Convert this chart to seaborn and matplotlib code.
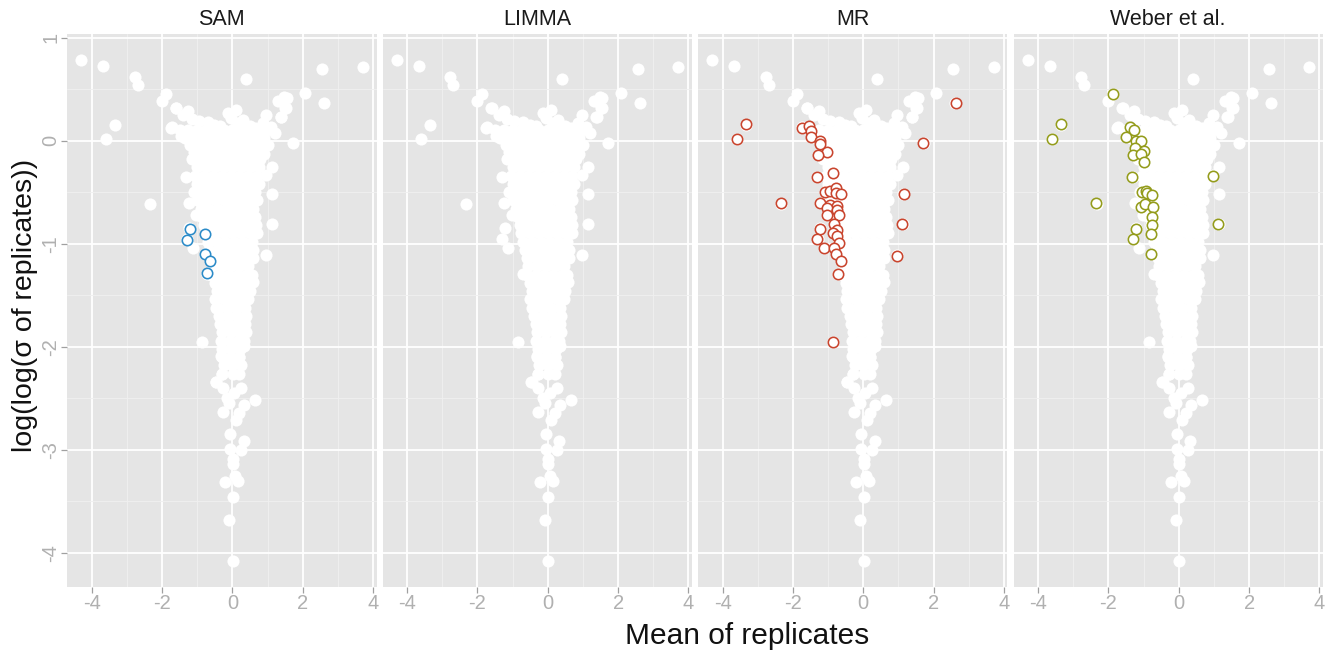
import numpy as np
import pandas as pd
import matplotlib
matplotlib.use("Agg")
import matplotlib.pyplot as plt
import seaborn as sns
from matplotlib.ticker import MultipleLocator

# ---------------- data ----------------
panels = ["SAM", "LIMMA", "MR", "Weber et al."]
panel_colors = {"SAM": "#2b8bc8", "LIMMA": "#2b8bc8", "MR": "#c9452e", "Weber et al.": "#949c1c"}

# scattered background points (all genes, shown in every panel)
out_x = [-4.29, -3.67, -2.77, -2.69, -3.34, -3.60, -2.33, 0.40, 2.56, 3.71, 2.08, 2.62, 1.72,
         -2.01, -1.88, -1.59, -1.26, -1.39, -1.73, -1.46, -0.13, 0.09, 1.31, 1.48, 1.55, 1.54,
         1.38, 0.96, 1.10, 0.86, 1.14, 1.13, 0.96, -1.31, -1.24, -1.03, -1.13, 0.89, 1.14, 0.96,
         -0.46, 0.58, -1.23, -1.30, -0.71, -0.85, -0.47, -1.75, -1.61, -0.52, 0.50, 0.15, 1.37,
         1.51, 1.39, -1.15, -0.95, -0.7, -0.35, 0.3, 0.65, -0.05, 1.2]
out_y = [0.785, 0.72, 0.617, 0.544, 0.156, 0.012, -0.614, 0.60, 0.69, 0.713, 0.465, 0.363, -0.022,
         0.385, 0.45, 0.315, 0.29, 0.245, 0.13, 0.045, 0.27, 0.30, 0.38, 0.42, 0.41, 0.315,
         0.23, 0.25, 0.13, 0.17, -0.52, -0.81, -1.11, -0.356, -0.61, -0.72, -1.04, -0.13, -0.26, -0.33,
         -1.625, -1.37, -0.85, -0.957, -1.29, -1.955, -2.34, 0.124, 0.32, 0.156, 0.146, 0.17, 0.385,
         0.32, 0.226, 0.21, 0.19, 0.18, 0.14, 0.20, 0.12, 0.22, 0.07]

tail_x = [0.65, 0.25, -0.27, -0.27, 0.34, 0.10, -0.06, 0.32, -0.06, 0.26, 0.01, 0.01, -0.22,
          0.07, 0.16, 0.01, -0.09, 0.01, -0.31, 0.20, 0.34, -0.29, -0.46, -0.09, 0.20, 0.05, -0.15]
tail_y = [-2.52, -2.40, -2.40, -2.63, -2.56, -2.71, -2.85, -2.91, -2.99, -3.00, -3.09, -3.14, -3.31,
          -3.25, -3.30, -3.46, -3.68, -4.08, -2.09, -2.10, -1.99, -2.26, -2.34, -2.55, -2.64, -2.45, -2.50]

# dense body of the cloud, row by row (y level, x positions)
body_y = [0.10, 0.03, -0.04, -0.11, -0.18, -0.26, -0.34, -0.42, -0.50, -0.58, -0.66, -0.74,
          -0.82, -0.90, -0.98, -1.06, -1.14, -1.22, -1.30, -1.38, -1.46, -1.54, -1.62, -1.70,
          -1.78, -1.86, -1.94, -2.02, -2.10, -2.18, -2.26]
body_x = [
    [-1.5, -1.25, -1.0, -0.75, -0.5, -0.25, 0.0, 0.25, 0.5, 0.75, 0.98],
    [-1.35, -1.1, -0.85, -0.6, -0.35, -0.1, 0.15, 0.4, 0.65, 0.9],
    [-1.2, -0.95, -0.7, -0.45, -0.2, 0.05, 0.3, 0.55, 0.8, 1.0],
    [-1.1, -0.85, -0.6, -0.35, -0.1, 0.15, 0.4, 0.65, 0.85],
    [-1.15, -0.9, -0.65, -0.4, -0.15, 0.1, 0.35, 0.6, 0.8],
    [-1.0, -0.75, -0.5, -0.25, 0.0, 0.25, 0.5, 0.75],
    [-1.05, -0.8, -0.55, -0.3, -0.05, 0.2, 0.45, 0.7],
    [-1.0, -0.75, -0.5, -0.25, 0.0, 0.25, 0.5, 0.75],
    [-1.1, -0.85, -0.6, -0.35, -0.1, 0.15, 0.4, 0.65],
    [-1.0, -0.75, -0.5, -0.25, 0.0, 0.25, 0.5, 0.7],
    [-0.9, -0.65, -0.4, -0.15, 0.1, 0.35, 0.6],
    [-0.85, -0.6, -0.35, -0.1, 0.15, 0.4, 0.65],
    [-0.8, -0.55, -0.3, -0.05, 0.2, 0.45, 0.68],
    [-0.75, -0.5, -0.25, 0.0, 0.25, 0.5, 0.7],
    [-0.7, -0.45, -0.2, 0.05, 0.3, 0.55],
    [-0.65, -0.4, -0.15, 0.1, 0.35, 0.6],
    [-0.6, -0.35, -0.1, 0.15, 0.4, 0.6],
    [-0.55, -0.3, -0.05, 0.2, 0.45],
    [-0.6, -0.35, -0.1, 0.15, 0.4, 0.55],
    [-0.5, -0.25, 0.0, 0.25, 0.45],
    [-0.45, -0.2, 0.05, 0.3, 0.5],
    [-0.5, -0.25, 0.0, 0.25, 0.45],
    [-0.4, -0.15, 0.1, 0.35],
    [-0.38, -0.13, 0.12, 0.38],
    [-0.35, -0.1, 0.15, 0.35],
    [-0.3, -0.05, 0.2, 0.38],
    [-0.33, -0.08, 0.17, 0.33],
    [-0.28, -0.03, 0.22],
    [-0.3, -0.05, 0.2],
    [-0.25, 0.0, 0.25],
    [-0.29, 0.01, 0.2],
]

# highlighted genes per method
sam_x = [-1.21, -1.30, -0.79, -0.77, -0.64, -0.71]
sam_y = [-0.86, -0.96, -0.906, -1.10, -1.17, -1.285]

mr_x = [2.63, -3.34, -3.60, -1.74, -1.55, -1.48, -1.48, -1.22, -1.22, -1.03, -1.29, 1.71, -0.85,
        -1.33, 1.15, -2.35, 1.11, 0.96, -0.85, -1.08, -0.96, -0.77, -0.77, -0.62, -1.24, -0.96,
        -0.75, -1.02, -0.75, -0.68, -1.03, -0.82, -0.74, -1.22, -0.85, -0.75, -1.31, -0.69, -1.13,
        -0.82, -0.77, -0.64, -0.71]
mr_y = [0.363, 0.159, 0.013, 0.121, 0.146, 0.089, 0.035, -0.003, -0.035, -0.11, -0.14, -0.019, -0.31,
        -0.35, -0.52, -0.61, -0.81, -1.12, -1.956, -0.50, -0.49, -0.46, -0.51, -0.52, -0.61, -0.62,
        -0.63, -0.655, -0.67, -0.72, -0.72, -0.81, -0.87, -0.856, -0.90, -0.93, -0.957, -0.99, -1.04,
        -1.04, -1.10, -1.17, -1.29]

weber_x = [-1.87, -3.34, -3.60, -1.38, -1.27, -1.50, -1.22, -1.08, -1.24, -0.98, -1.29, -1.08, -0.98,
           -1.32, 0.96, -2.34, 1.12, -1.05, -0.94, -0.89, -0.75, -1.08, -0.96, -0.73, -0.75, -0.77,
           -1.22, -0.79, -1.30, -0.79]
weber_y = [0.45, 0.159, 0.013, 0.134, 0.10, 0.035, -0.003, -0.006, -0.073, -0.10, -0.14, -0.13, -0.21,
           -0.353, -0.347, -0.61, -0.81, -0.50, -0.487, -0.51, -0.53, -0.64, -0.617, -0.64, -0.74, -0.82,
           -0.856, -0.91, -0.957, -1.10]

# ---------------- build tables ----------------
bx = list(out_x) + list(tail_x)
by = list(out_y) + list(tail_y)
for yv, xs in zip(body_y, body_x):
    bx += xs
    by += [yv] * len(xs)
background = pd.DataFrame({"mean": bx, "loglogsd": by})

highlights = {
    "SAM": pd.DataFrame({"mean": sam_x, "loglogsd": sam_y}),
    "LIMMA": pd.DataFrame({"mean": [], "loglogsd": []}),
    "MR": pd.DataFrame({"mean": mr_x, "loglogsd": mr_y}),
    "Weber et al.": pd.DataFrame({"mean": weber_x, "loglogsd": weber_y}),
}

# ---------------- style ----------------
sns.set_theme(style="darkgrid", rc={
    "axes.facecolor": "#E5E5E5",
    "grid.color": "white",
    "grid.linewidth": 1.3,
})
plt.rcParams["font.family"] = ["Liberation Sans", "DejaVu Sans"]
plt.rcParams["axes.unicode_minus"] = False

fig, axes = plt.subplots(1, 4, figsize=(13.28, 6.5), dpi=100, sharey=True)
plt.subplots_adjust(left=0.0505, right=0.9962, bottom=0.097, top=0.947, wspace=0.0195)

for ax, name in zip(axes, panels):
    sns.scatterplot(data=background, x="mean", y="loglogsd", ax=ax, color="white",
                    s=76, linewidth=0, legend=False, zorder=3)
    hd = highlights[name]
    if len(hd):
        sns.scatterplot(data=hd, x="mean", y="loglogsd", ax=ax, color="white",
                        edgecolor=panel_colors[name], s=56, linewidth=1.15,
                        legend=False, zorder=4)
    ax.set_xlim(-4.7, 4.1)
    ax.set_ylim(-4.33, 1.03)
    ax.xaxis.set_major_locator(MultipleLocator(2))
    ax.xaxis.set_minor_locator(MultipleLocator(1))
    ax.yaxis.set_major_locator(MultipleLocator(1))
    ax.yaxis.set_minor_locator(MultipleLocator(0.5))
    ax.grid(which="major", color="white", linewidth=1.3)
    ax.grid(which="minor", color="#F0F0F0", linewidth=0.6)
    ax.set_axisbelow(True)
    for sp in ax.spines.values():
        sp.set_visible(False)
    ax.tick_params(axis="both", which="major", length=4, width=0.9, color="#A0A0A0",
                   labelcolor="#B0B0B0", labelsize=14.5, pad=1)
    ax.tick_params(axis="both", which="minor", length=0)
    ax.tick_params(axis="x", bottom=True)
    ax.set_xlabel("")
    ax.set_ylabel("")
    ax.set_title(name, fontsize=15.5, color="#1a1a1a", pad=7)

axes[0].tick_params(axis="y", left=True, labelrotation=90)
for lab in axes[0].get_yticklabels():
    lab.set_va("center")
for ax in axes[1:]:
    ax.tick_params(axis="y", left=False)

fig.text(747 / 1328, 1 - 649.5 / 650, "Mean of replicates", ha="center", va="bottom",
         fontsize=21.5, color="#111111")
fig.text(25 / 1328, 1 - 305 / 650, "log(log(σ of replicates))", ha="center", va="center",
         rotation=90, fontsize=20.5, color="#111111")

fig.savefig("out.png", dpi=100)
